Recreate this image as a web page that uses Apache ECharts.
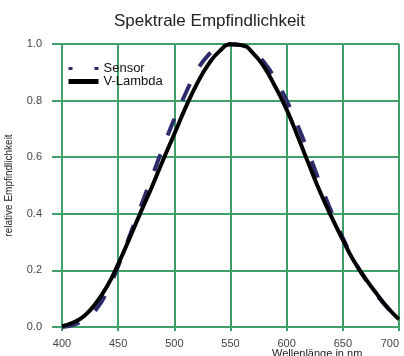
<!DOCTYPE html>
<html>
<head>
<meta charset="utf-8">
<script src="https://cdn.jsdelivr.net/npm/echarts@6/dist/echarts.min.js"></script>
<style>html,body{margin:0;padding:0;background:#fff}#c{width:404px;height:356px}</style>
</head>
<body>
<div id="c"></div>
<script>
const titleText = 'Spektrale Empfindlichkeit';
const xName = 'Wellenlänge in nm';
const yName = 'relative Empfindlichkeit';
const seriesNames = ['Sensor', 'V-Lambda'];
const wavelengths = [400,410,420,430,440,450,460,470,480,490,500,510,520,530,540,550,560,570,580,590,600,610,620,630,640,650,660,670,680,690,700];
const sensor = [0.0,0.008,0.025,0.06,0.125,0.215,0.32,0.425,0.53,0.635,0.735,0.825,0.905,0.96,0.99,1.0,0.995,0.975,0.935,0.875,0.80,0.71,0.61,0.505,0.405,0.315,0.235,0.17,0.115,0.067,0.027];
const vLambda = [0.003,0.016,0.04,0.083,0.143,0.222,0.312,0.405,0.495,0.59,0.682,0.775,0.858,0.926,0.974,0.998,0.996,0.968,0.918,0.848,0.768,0.672,0.572,0.475,0.388,0.308,0.232,0.172,0.118,0.068,0.027];

const green = '#41a06a';
const chart = echarts.init(document.getElementById('c'), null, {renderer: 'canvas'});
const pairs = arr => wavelengths.map((w, i) => [w, arr[i]]);
chart.setOption({
  animation: false,
  backgroundColor: '#fff',
  title: {
    text: titleText, left: 109, top: 8,
    textStyle: {fontFamily: 'Liberation Sans', fontSize: 17, fontWeight: 'normal', color: '#222'}
  },
  legend: {
    orient: 'vertical', left: 61, top: 57, itemGap: 0, itemWidth: 30, itemHeight: 10,
    textStyle: {fontFamily: 'Liberation Sans', fontSize: 13, color: '#111', lineHeight: 11},
    data: [
      {name: seriesNames[0], itemStyle: {opacity: 0}, lineStyle: {type: [4, 22], width: 3, color: '#2d2b6b'}},
      {name: seriesNames[1], itemStyle: {opacity: 0}, lineStyle: {width: 5, color: '#000'}}
    ]
  },
  grid: {left: 62, right: 5, top: 44, bottom: 29, containLabel: false, outerBoundsMode: 'none'},
  xAxis: {
    type: 'value', min: 400, max: 700, interval: 50,
    axisLine: {show: true, lineStyle: {color: green, width: 2}},
    axisTick: {show: true, length: 4, lineStyle: {color: green, width: 2}},
    splitLine: {show: true, lineStyle: {color: green, width: 2}},
    axisLabel: {fontFamily: 'Liberation Sans', fontSize: 11, color: '#444', margin: 11, alignMaxLabel: 'right'}
  },
  yAxis: {
    type: 'value', min: 0, max: 1, interval: 0.2,
    name: yName, nameLocation: 'middle', nameGap: 48,
    nameTextStyle: {fontFamily: 'Liberation Sans', fontSize: 10, color: '#222'},
    axisLine: {show: true, lineStyle: {color: green, width: 2}},
    axisTick: {show: true, length: 10, lineStyle: {color: green, width: 2}},
    splitLine: {show: true, lineStyle: {color: green, width: 2}},
    axisLabel: {fontFamily: 'Liberation Sans', fontSize: 11, color: '#444', margin: 20,
      formatter: v => v.toFixed(1)}
  },
  graphic: [{
    type: 'text', left: 272, top: 348,
    style: {text: xName, fontFamily: 'Liberation Sans', fontSize: 11, fill: '#222'}
  }],
  series: [
    {name: seriesNames[0], type: 'line', smooth: true, showSymbol: false, symbol: 'none',
     data: pairs(sensor), lineStyle: {color: '#2d2b6b', width: 4, type: [18, 20]}, itemStyle: {color: '#2d2b6b'}},
    {name: seriesNames[1], type: 'line', smooth: true, showSymbol: false, symbol: 'none',
     data: pairs(vLambda), lineStyle: {color: '#000', width: 4}, itemStyle: {color: '#000'}}
  ]
});
</script>
</body>
</html>
